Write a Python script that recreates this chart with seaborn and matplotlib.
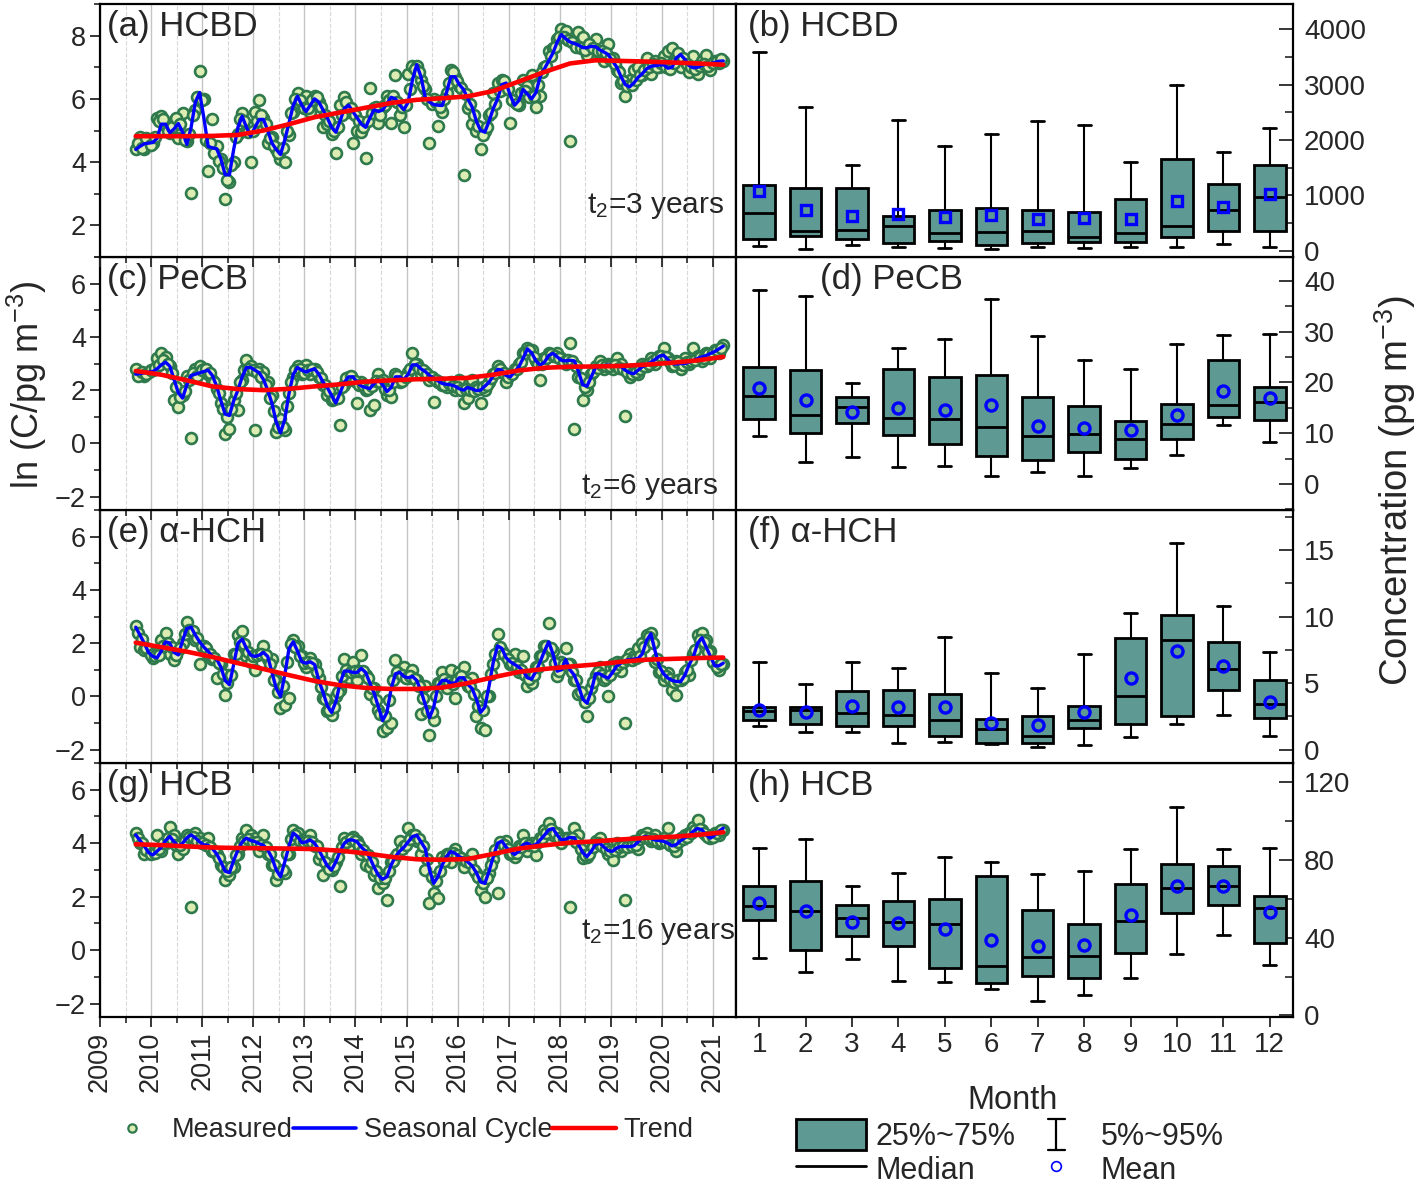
import numpy as np
import matplotlib
matplotlib.use("Agg")
import matplotlib.pyplot as plt
import seaborn as sns
from matplotlib.lines import Line2D
from matplotlib.patches import Patch
from matplotlib.legend_handler import HandlerBase
from matplotlib.ticker import MultipleLocator

sns.set_style("ticks")
plt.rcParams["font.family"] = ["Liberation Sans", "DejaVu Sans"]
plt.rcParams["mathtext.fontset"] = "custom"
plt.rcParams["mathtext.rm"] = "Liberation Sans"
plt.rcParams["mathtext.it"] = "Liberation Sans:italic"

# ---- time series: monthly values starting 2009.70 ----
seas_a = [4.4, 4.5, 4.58, 4.6,
          4.62, 4.75, 5.2, 5.2, 4.93, 5.05, 5.22, 4.95, 4.56, 5.1, 5.9, 6.2,
          5.4, 4.5, 4.45, 4.42, 4.1, 3.6, 3.6, 4.4, 5.1, 5.45, 5.1, 4.82,
          5.1, 5.35, 5.35, 5.0, 4.6, 4.4, 4.24, 4.7, 5.24, 5.8, 6.08, 5.8,
          5.6, 5.8, 6.0, 5.9, 5.65, 5.4, 5.1, 4.95, 5.3, 5.7, 5.8, 5.6,
          5.4, 5.2, 5.1, 5.4, 5.66, 5.6, 5.65, 5.85, 6.05, 6.0, 5.8, 5.66,
          5.9, 6.6, 7.08, 6.7, 6.05, 5.9, 5.82, 5.8, 5.79, 6.2, 6.7, 6.7,
          6.45, 6.3, 6.0, 5.75, 5.3, 5.0, 4.95, 5.3, 5.7, 6.0, 6.45, 6.5,
          6.1, 5.8, 5.95, 6.3, 6.15, 6.0, 6.2, 6.7, 6.95, 7.2, 7.45, 7.8,
          8.03, 7.9, 7.8, 7.75, 7.7, 7.62, 7.62, 7.66, 7.65, 7.55, 7.48, 7.4,
          7.2, 7.0, 6.7, 6.45, 6.38, 6.5, 6.68, 6.8, 6.95, 7.03, 7.05, 7.07,
          7.08, 6.97, 7.0, 7.3, 7.4, 7.25, 7.05, 6.98, 7.0, 7.06, 7.1, 7.12,
          7.15, 7.19, 7.2]
meas_a = [4.4, 4.8, 4.4, 4.7,
          4.6, 5.4, 5.45, 5.14, 4.93, 5.3, 4.77, 5.56, 4.66, 3.03, 5.65, 6.87,
          6.0, 3.72, 5.35, 4.5, 4.1, 2.82, 3.37, 4.0, 4.9, 5.55, 5.0, 4.0,
          5.6, 5.95, 5.4, 4.6, 4.8, 4.4, 4.1, 4.0, 4.85, 5.6, 6.2, 5.9,
          6.1, 5.6, 6.1, 5.9, 5.1, 5.2, 4.9, 4.3, 5.8, 6.05, 5.6, 4.6,
          5.0, 4.95, 4.14, 6.35, 5.7, 5.25, 5.75, 6.1, 5.25, 6.77, 5.5, 5.1,
          6.8, 7.05, 7.05, 6.6, 6.3, 4.6, 6.0, 5.15, 5.6, 6.2, 6.9, 6.7,
          6.4, 3.6, 5.7, 5.2, 5.0, 4.4, 5.0, 5.5, 6.2, 6.5, 6.6, 6.3,
          5.24, 5.9, 5.8, 6.6, 6.4, 6.77, 5.75, 6.1, 7.0, 7.5, 7.6, 7.9,
          8.2, 8.15, 4.66, 7.8, 8.1, 7.95, 7.4, 7.7, 7.9, 7.4, 7.2, 7.75,
          7.3, 6.9, 6.5, 6.1, 6.6, 6.9, 7.0, 6.75, 7.3, 6.8, 7.2, 7.0,
          7.35, 7.5, 7.6, 7.3, 7.0, 7.2, 6.85, 7.35, 6.8, 7.2, 7.4, 6.9,
          7.2, 7.15, 7.2]
# second sample of each month (mid-month, from 2009.74)
meas2_a = [4.6, 4.45, 4.75, 4.55,
           4.8, 5.3, 5.35, 5.0, 5.1, 5.4, 5.2, 4.7, 4.9, 5.5, 6.05, 5.95,
           4.7, 4.6, 4.3, 4.05, 3.8, 3.45, 3.9, 4.8, 5.35, 5.3, 4.95, 5.0,
           5.3, 5.5, 5.2, 4.75, 4.5, 4.3, 4.45, 5.0, 5.55, 6.0, 5.95, 5.7,
           5.7, 5.95, 6.05, 5.75, 5.5, 5.3, 5.0, 5.1, 5.5, 5.9, 5.7, 5.5,
           5.3, 5.1, 5.3, 5.55, 5.75, 5.5, 5.8, 5.95, 6.1, 5.9, 5.75, 5.8,
           6.3, 6.95, 6.85, 6.4, 6.0, 5.85, 5.9, 5.75, 6.0, 6.5, 6.85, 6.55,
           6.35, 6.15, 5.85, 5.5, 5.15, 4.85, 5.1, 5.55, 5.85, 6.25, 6.55, 6.3,
           5.95, 5.85, 6.2, 6.25, 6.05, 6.1, 6.45, 6.85, 7.05, 7.35, 7.65, 7.95,
           7.95, 7.85, 7.8, 7.65, 7.6, 7.55, 7.75, 7.6, 7.5, 7.5, 7.45, 7.25,
           7.1, 6.85, 6.55, 6.4, 6.45, 6.6, 6.75, 6.9, 7.0, 7.1, 7.0, 7.15,
           7.0, 6.95, 7.15, 7.45, 7.3, 7.1, 7.0, 6.95, 7.05, 7.1, 7.05, 7.15,
           7.2, 7.25]

seas_c = [2.6, 2.62, 2.65, 2.68,
          2.7, 2.8, 2.95, 3.05, 2.9, 2.4, 1.9, 1.7, 2.2, 2.55, 2.6, 2.65,
          2.7, 2.75, 2.55, 2.15, 1.6, 1.1, 1.05, 1.6, 2.0, 2.5, 2.85, 2.85,
          2.75, 2.65, 2.4, 2.0, 1.5, 0.8, 0.4, 0.9, 1.88, 2.6, 2.85, 2.75,
          2.68, 2.75, 2.8, 2.6, 2.3, 2.1, 1.8, 1.52, 1.9, 2.3, 2.5, 2.5,
          2.3, 2.15, 2.1, 2.06, 2.25, 2.38, 2.2, 1.95, 2.1, 2.5, 2.5, 2.4,
          2.6, 2.95, 2.95, 2.8, 2.7, 2.55, 2.44, 2.35, 2.25, 2.22, 2.2, 2.15,
          2.05, 2.0, 2.1, 2.05, 1.98, 2.0, 2.15, 2.3, 2.55, 2.78, 2.75, 2.55,
          2.5, 2.7, 2.88, 3.2, 3.55, 3.4, 3.1, 2.94, 3.05, 3.3, 3.38, 3.25,
          3.12, 3.1, 3.12, 3.1, 2.7, 2.2, 2.15, 2.5, 2.85, 2.9, 2.92, 2.94,
          2.92, 2.9, 2.88, 2.75, 2.65, 2.62, 2.75, 2.88, 2.95, 3.05, 3.15, 3.28,
          3.31, 3.15, 3.0, 2.98, 3.0, 3.0, 3.05, 3.12, 3.19, 3.25, 3.3, 3.38,
          3.45, 3.55, 3.65]
meas_c = [2.8, 2.6, 2.55, 2.7,
          2.75, 3.2, 3.4, 3.25, 2.9, 1.62, 1.38, 1.8, 2.55, 0.22, 2.8, 2.9,
          2.8, 2.6, 2.4, 2.05, 1.5, 0.37, 0.56, 1.62, 1.25, 2.4, 3.12, 2.9,
          0.5, 2.8, 2.7, 2.3, 1.8, 0.44, 0.9, 0.5, 1.9, 2.5, 2.9, 2.6,
          2.95, 2.6, 2.8, 2.5, 2.2, 1.8, 1.62, 1.7, 0.69, 2.2, 2.5, 2.4,
          1.5, 2.3, 2.0, 1.25, 1.44, 2.6, 2.4, 1.8, 1.75, 2.6, 2.3, 2.5,
          2.7, 3.38, 3.0, 2.6, 2.7, 2.4, 1.56, 2.3, 2.2, 2.1, 2.3, 2.0,
          2.4, 1.5, 1.69, 2.4, 2.1, 1.5, 2.0, 2.3, 2.6, 2.9, 2.7, 2.3,
          2.6, 2.8, 3.0, 3.4, 3.6, 3.5, 3.1, 2.38, 3.2, 3.4, 3.3, 3.4,
          3.2, 3.0, 3.78, 0.56, 2.5, 1.62, 2.0, 2.6, 2.9, 3.1, 2.8, 3.0,
          2.8, 3.2, 3.0, 1.02, 2.5, 2.7, 2.6, 3.0, 2.9, 3.2, 3.0, 3.3,
          3.6, 3.2, 2.9, 3.1, 2.8, 3.2, 3.0, 3.6, 3.3, 3.1, 3.4, 3.2,
          3.5, 3.4, 3.7]
meas2_c = [2.55, 2.7, 2.6, 2.75,
           2.85, 2.95, 3.15, 3.0, 2.65, 2.1, 1.75, 1.95, 2.4, 2.65, 2.55, 2.75,
           2.8, 2.65, 2.3, 1.9, 1.3, 1.0, 1.3, 1.9, 2.3, 2.75, 2.8, 2.75,
           2.7, 2.5, 2.2, 1.7, 1.2, 0.6, 0.6, 1.4, 2.3, 2.75, 2.8, 2.65,
           2.75, 2.8, 2.7, 2.45, 2.2, 1.95, 1.65, 1.7, 2.1, 2.45, 2.55, 2.35,
           2.2, 2.2, 2.05, 2.15, 2.35, 2.3, 2.05, 2.0, 2.3, 2.55, 2.35, 2.5,
           2.8, 3.0, 2.85, 2.75, 2.6, 2.5, 2.4, 2.3, 2.2, 2.25, 2.15, 2.1,
           2.0, 2.05, 2.0, 1.95, 2.05, 2.1, 2.2, 2.45, 2.65, 2.8, 2.65, 2.5,
           2.6, 2.8, 3.05, 3.4, 3.5, 3.25, 3.0, 3.0, 3.2, 3.35, 3.3, 3.2,
           3.05, 3.15, 3.1, 2.9, 2.45, 2.1, 2.3, 2.7, 2.85, 2.95, 2.9, 2.9,
           2.95, 2.85, 2.8, 2.7, 2.6, 2.7, 2.8, 2.9, 3.0, 3.1, 3.2, 3.3,
           3.25, 3.05, 2.95, 3.05, 2.95, 3.05, 3.1, 3.15, 3.25, 3.2, 3.35, 3.4,
           3.5, 3.6]

seas_e = [2.6, 2.3, 2.0, 1.65,
          1.5, 1.45, 1.7, 2.05, 2.0, 1.65, 1.56, 2.1, 2.55, 2.6, 2.3, 2.05,
          1.85, 1.69, 1.5, 1.4, 1.1, 0.6, 0.44, 1.2, 2.0, 2.15, 1.8, 1.55,
          1.5, 1.55, 1.65, 1.5, 0.9, 0.3, 0.0, 0.8, 1.8, 2.05, 1.7, 1.3,
          1.25, 1.3, 1.2, 0.6, 0.15, -0.35, -0.6, -0.2, 0.5, 0.95, 0.95, 0.9,
          0.9, 1.05, 0.9, 0.5, 0.12, -0.4, -0.9, -0.6, 0.3, 0.85, 0.9, 0.75,
          0.7, 0.75, 0.6, 0.2, -0.3, -0.8, -0.4, 0.4, 0.6, 0.6, 0.5, 0.5,
          0.7, 0.7, 0.45, 0.3, -0.1, -0.6, -0.4, 0.4, 1.3, 1.9, 1.8, 1.45,
          1.3, 1.2, 1.1, 0.95, 0.7, 0.65, 0.95, 1.3, 1.7, 2.05, 1.6, 0.95,
          1.0, 1.38, 1.0, 0.8, 0.4, -0.1, -0.25, 0.2, 0.85, 0.85, 0.75, 0.69,
          0.9, 1.15, 1.25, 1.35, 1.38, 1.4, 1.42, 1.6, 2.1, 2.35, 1.7, 1.12,
          0.85, 0.69, 0.6, 0.56, 0.56, 0.8, 1.2, 1.5, 2.0, 2.2, 1.85, 1.5,
          1.15, 1.15, 1.25]
meas_e = [2.65, 1.85, 1.75, 1.7,
          1.45, 1.6, 2.1, 2.4, 1.6, 1.35, 1.75, 2.0, 2.81, 2.3, 2.1, 1.2,
          1.9, 1.55, 1.4, 0.7, 1.2, 0.06, 0.8, 1.6, 2.3, 2.44, 1.5, 1.3,
          1.0, 1.6, 1.9, 1.4, 1.4, 0.6, -0.44, -0.31, -0.06, 2.12, 1.9, 1.5,
          1.1, 1.45, 1.2, 0.7, -0.06, -0.56, -0.7, 0.0, 0.25, 1.4, 0.7, 1.3,
          0.6, 1.55, 0.8, 0.1, 0.3, -0.5, -1.31, -1.19, -1.0, 1.35, 0.8, 1.1,
          0.7, 1.0, 0.6, -0.65, 0.4, -1.44, -0.88, 0.5, 0.9, 0.3, 1.0, -0.06,
          0.9, 1.1, 0.4, 0.7, -0.75, -1.19, -1.25, 0.0, 1.2, 2.35, 1.7, 1.5,
          1.2, 1.6, 0.9, 1.5, 0.4, 0.5, 1.1, 1.5, 1.9, 2.75, 1.7, 0.75,
          1.3, 1.8, 1.2, 0.6, 0.1, 0.1, -0.75, 0.3, 0.8, 1.1, 0.6, 0.02,
          1.2, 1.3, 0.95, -1.0, 1.6, 1.5, 1.8, 2.0, 2.3, 2.4, 1.3, 0.9,
          0.6, 0.88, 0.25, 0.06, 0.6, 0.9, 0.8, 1.6, 2.31, 2.4, 2.1, 1.7,
          1.3, 1.0, 1.2]
meas2_e = [2.4, 2.15, 1.8, 1.55,
           1.5, 1.55, 1.9, 2.0, 1.85, 1.55, 1.8, 2.35, 2.5, 2.45, 2.2, 1.9,
           1.8, 1.6, 1.45, 1.25, 0.85, 0.5, 0.8, 1.6, 2.05, 1.95, 1.65, 1.5,
           1.55, 1.6, 1.55, 1.2, 0.6, 0.15, 0.4, 1.3, 1.95, 1.85, 1.5, 1.25,
           1.3, 1.25, 0.9, 0.35, -0.1, -0.5, -0.4, 0.15, 0.75, 1.0, 0.9, 0.95,
           0.95, 0.95, 0.7, 0.3, -0.15, -0.65, -0.75, -0.15, 0.6, 0.9, 0.8, 0.7,
           0.75, 0.65, 0.4, -0.05, -0.55, -0.6, 0.0, 0.5, 0.65, 0.55, 0.45, 0.6,
           0.75, 0.55, 0.35, 0.1, -0.35, -0.5, 0.0, 0.85, 1.6, 1.85, 1.6, 1.4,
           1.25, 1.15, 1.0, 0.8, 0.65, 0.8, 1.1, 1.5, 1.9, 1.8, 1.25, 0.95,
           1.2, 1.2, 0.9, 0.6, 0.15, -0.2, -0.05, 0.55, 0.9, 0.8, 0.7, 0.8,
           1.05, 1.2, 1.3, 1.4, 1.35, 1.45, 1.5, 1.85, 2.25, 2.0, 1.4, 0.95,
           0.75, 0.65, 0.55, 0.6, 0.7, 1.0, 1.35, 1.75, 2.1, 2.05, 1.65, 1.3,
           1.1, 1.2]

seas_g = [4.31, 4.1, 3.9, 3.65,
          3.56, 3.7, 3.85, 4.1, 4.25, 4.05, 3.88, 4.0, 4.2, 4.31, 4.2, 4.05,
          3.94, 3.92, 3.8, 3.6, 3.3, 2.95, 2.9, 3.35, 3.75, 4.05, 4.19, 4.1,
          4.06, 3.98, 3.92, 3.75, 3.45, 3.0, 2.75, 3.3, 3.9, 4.38, 4.25, 4.02,
          4.05, 4.12, 4.0, 3.75, 3.45, 3.15, 3.0, 3.3, 3.7, 4.0, 4.12, 4.12,
          4.05, 3.85, 3.7, 3.45, 3.1, 2.8, 2.65, 2.75, 3.19, 3.5, 3.7, 3.85,
          4.05, 4.25, 4.3, 4.05, 3.8, 3.0, 2.5, 2.75, 3.19, 3.5, 3.69, 3.62,
          3.5, 3.42, 3.3, 3.15, 2.9, 2.55, 2.5, 2.95, 3.5, 4.0, 4.08, 3.85,
          3.7, 3.58, 3.7, 3.95, 4.0, 3.9, 3.95, 4.12, 4.3, 4.5, 4.55, 4.3,
          4.12, 4.15, 4.22, 4.2, 3.95, 3.65, 3.5, 3.7, 3.95, 4.0, 3.85, 3.72,
          3.7, 3.82, 3.88, 3.88, 3.87, 3.9, 4.05, 4.22, 4.25, 4.18, 4.12, 4.1,
          4.07, 4.0, 3.9, 3.95, 4.1, 4.2, 4.3, 4.45, 4.55, 4.5, 4.3, 4.19,
          4.3, 4.45, 4.56]
meas_g = [4.4, 4.0, 3.6, 3.7,
          3.75, 4.3, 3.7, 4.0, 4.62, 4.3, 3.6, 3.8, 4.3, 1.62, 4.4, 4.2,
          4.1, 4.2, 3.7, 3.6, 3.2, 2.62, 2.8, 3.1, 3.6, 4.2, 4.5, 4.3,
          4.2, 3.7, 4.3, 3.6, 3.2, 2.62, 2.9, 2.88, 3.6, 4.5, 4.4, 4.1,
          4.2, 4.3, 3.9, 3.4, 2.81, 3.2, 3.0, 3.3, 2.41, 4.2, 3.9, 4.25,
          4.1, 3.6, 3.2, 3.1, 2.8, 2.31, 2.5, 1.88, 3.3, 3.5, 4.1, 3.9,
          4.56, 4.3, 4.1, 3.6, 3.0, 1.75, 2.12, 1.94, 3.5, 3.6, 3.3, 3.8,
          3.5, 3.1, 3.4, 3.6, 2.9, 2.25, 2.0, 2.9, 3.4, 2.12, 3.9, 4.1,
          3.6, 3.5, 3.9, 4.3, 3.7, 4.0, 3.56, 4.2, 4.5, 4.75, 4.3, 4.4,
          4.0, 4.2, 1.62, 4.56, 4.3, 3.44, 3.5, 3.8, 4.1, 4.2, 3.9, 3.6,
          3.38, 4.0, 3.7, 1.88, 3.9, 4.1, 3.8, 4.3, 4.4, 4.1, 4.3, 4.0,
          4.2, 4.56, 4.0, 3.7, 4.2, 4.3, 4.4, 4.6, 4.88, 4.5, 4.3, 4.2,
          4.4, 4.3, 4.5]
meas2_g = [4.2, 4.0, 3.75, 3.6,
           3.65, 3.8, 4.0, 4.2, 4.15, 3.95, 3.95, 4.1, 4.25, 4.25, 4.1, 4.0,
           3.95, 3.85, 3.7, 3.45, 3.1, 2.95, 3.1, 3.55, 3.9, 4.1, 4.15, 4.05,
           4.05, 3.95, 3.85, 3.6, 3.2, 2.85, 3.0, 3.6, 4.15, 4.3, 4.1, 4.05,
           4.1, 4.05, 3.9, 3.6, 3.3, 3.05, 3.15, 3.5, 3.85, 4.05, 4.15, 4.1,
           3.95, 3.75, 3.55, 3.3, 2.95, 2.7, 2.7, 2.95, 3.35, 3.6, 3.8, 3.95,
           4.15, 4.3, 4.15, 3.9, 3.4, 2.75, 2.6, 2.95, 3.35, 3.6, 3.65, 3.55,
           3.45, 3.35, 3.25, 3.0, 2.75, 2.5, 2.7, 3.2, 3.75, 4.05, 3.95, 3.8,
           3.65, 3.65, 3.85, 4.0, 3.95, 3.9, 4.05, 4.2, 4.4, 4.55, 4.4, 4.2,
           4.15, 4.2, 4.2, 4.05, 3.8, 3.55, 3.6, 3.85, 4.0, 3.9, 3.8, 3.7,
           3.75, 3.85, 3.9, 3.85, 3.9, 3.95, 4.15, 4.25, 4.2, 4.15, 4.1, 4.1,
           4.05, 3.95, 3.9, 4.05, 4.15, 4.25, 4.4, 4.5, 4.55, 4.4, 4.25, 4.25,
           4.4, 4.5]

# trend curves, every half year from 2009.70
trend_a = [4.82, 4.82, 4.82, 4.83, 4.86, 5.0, 5.2, 5.42, 5.57, 5.72, 5.87, 5.97,
           6.02, 6.08, 6.25, 6.55, 6.85, 7.12, 7.22, 7.2, 7.18, 7.15, 7.12, 7.08]
trend_c = [2.72, 2.58, 2.37, 2.14, 2.04, 2.0, 2.05, 2.14, 2.22, 2.32, 2.37, 2.41,
           2.43, 2.46, 2.58, 2.74, 2.84, 2.88, 2.89, 2.91, 2.96, 3.03, 3.12, 3.25]
trend_e = [2.02, 1.85, 1.68, 1.48, 1.25, 1.03, 0.8, 0.58, 0.42, 0.32, 0.28, 0.28,
           0.33, 0.5, 0.72, 0.92, 1.03, 1.12, 1.2, 1.3, 1.38, 1.41, 1.44, 1.46]
trend_g = [3.96, 3.93, 3.88, 3.84, 3.82, 3.81, 3.8, 3.78, 3.72, 3.62, 3.49, 3.4,
           3.38, 3.41, 3.6, 3.8, 3.92, 4.02, 4.07, 4.14, 4.2, 4.24, 4.31, 4.41]

# ---- monthly box statistics ----
months = list(range(1, 13))
hcbd_lo = [91, 36, 103, 62, 54, 31, 67, 54, 73, 73, 122, 73]
hcbd_q1 = [218, 267, 207, 145, 171, 98, 134, 163, 163, 249, 358, 363]
hcbd_med = [672, 363, 381, 443, 316, 334, 358, 254, 316, 443, 726, 962]
hcbd_q3 = [1187, 1125, 1132, 630, 739, 775, 726, 690, 933, 1664, 1205, 1543]
hcbd_hi = [3600, 2602, 1555, 2360, 1900, 2118, 2348, 2263, 1604, 3002, 1791, 2221]
hcbd_mean = [1083, 733, 630, 666, 617, 642, 581, 593, 569, 902, 793, 1024]

pecb_lo = [9.4, 4.3, 5.4, 3.3, 3.5, 1.6, 2.3, 1.6, 3.1, 5.7, 11.6, 8.2]
pecb_q1 = [12.9, 10.1, 12.1, 9.6, 7.8, 5.6, 4.7, 6.4, 5.0, 8.8, 13.2, 12.7]
pecb_med = [17.3, 13.6, 15.2, 13.0, 12.9, 11.3, 9.4, 9.8, 8.9, 11.8, 15.5, 16.1]
pecb_q3 = [23.1, 22.4, 17.2, 22.7, 21.0, 21.4, 17.2, 15.4, 12.5, 15.7, 24.5, 19.2]
pecb_hi = [38.3, 37.0, 19.9, 26.8, 28.5, 36.5, 29.2, 24.5, 22.6, 27.5, 29.3, 29.5]
pecb_mean = [18.9, 16.5, 14.2, 14.9, 14.6, 15.5, 11.5, 11.0, 10.6, 13.6, 18.4, 17.0]

hch_lo = [1.8, 1.35, 1.3, 0.5, 0.6, 0.4, 0.2, 0.35, 0.95, 1.95, 2.6, 1.0]
hch_q1 = [2.25, 1.95, 1.8, 1.75, 1.0, 0.5, 0.5, 1.65, 1.9, 2.55, 4.45, 2.35]
hch_med = [2.9, 2.95, 2.75, 2.6, 2.2, 1.55, 1.05, 2.2, 4.05, 8.2, 6.05, 3.4]
hch_q3 = [3.2, 3.2, 4.4, 4.45, 4.2, 2.3, 2.5, 3.3, 8.4, 10.15, 8.1, 5.25]
hch_hi = [6.6, 4.9, 6.6, 6.1, 8.5, 5.75, 4.6, 7.2, 10.3, 15.5, 10.8, 7.35]
hch_mean = [3.0, 2.8, 3.25, 3.2, 3.2, 2.0, 1.85, 2.8, 5.4, 7.4, 6.3, 3.6]

hcb_lo = [29.8, 22.3, 29.3, 17.5, 17.3, 13.4, 7.4, 10.6, 19.2, 31.9, 41.3, 25.9]
hcb_q1 = [49.4, 33.6, 40.8, 35.8, 24.2, 16.6, 20.2, 19.4, 32.1, 53.0, 57.1, 37.4]
hcb_med = [56.4, 54.0, 50.4, 48.2, 47.0, 25.4, 30.0, 30.5, 48.5, 65.7, 66.9, 55.4]
hcb_q3 = [66.9, 69.4, 57.1, 59.0, 59.8, 72.0, 54.2, 47.0, 67.9, 78.0, 77.1, 61.5]
hcb_hi = [86.4, 90.9, 66.9, 73.4, 81.6, 79.0, 72.7, 74.6, 85.9, 107.3, 85.5, 86.4]
hcb_mean = [57.9, 53.8, 48.0, 47.8, 44.6, 39.1, 36.0, 36.3, 51.6, 66.5, 66.5, 53.1]

years = list(range(2009, 2022))

FILL = "#dcecb2"
EDGE = "#2e7a4c"
BOXC = "#5f9993"
TICK_FS = 20
LABEL_FS = 25


def monthly_time(vals, start=2009.70):
    return start + np.arange(len(vals)) / 12


def half_year_time(vals):
    return 2009.70 + 0.5 * np.arange(len(vals))


def draw_left(ax, meas, meas2, seas, trend, label, ylim, bottom=False):
    ax.set_xlim(2009, 2021.45)
    ax.set_ylim(*ylim)
    ax.xaxis.set_major_locator(MultipleLocator(1))
    ax.xaxis.set_minor_locator(MultipleLocator(0.5))
    ax.yaxis.set_major_locator(MultipleLocator(2))
    ax.yaxis.set_minor_locator(MultipleLocator(1))
    ax.grid(True, which="major", axis="x", color="#c4c4c4", lw=1.0)
    ax.grid(True, which="minor", axis="x", color="#d8d8d8", lw=0.8, ls="--")
    ax.grid(False, axis="y", which="both")
    ax.set_axisbelow(True)

    for tt, vv in ((monthly_time(meas), meas), (monthly_time(meas2, 2009.74), meas2)):
        sns.scatterplot(x=tt, y=vv, ax=ax, s=62, color=FILL, edgecolor=EDGE,
                        linewidth=1.9, zorder=2, legend=False)
    sns.lineplot(x=monthly_time(seas), y=seas, ax=ax, color="blue", lw=2.4, zorder=3)
    sns.lineplot(x=half_year_time(trend), y=trend, ax=ax, color="red", lw=3.3, zorder=4)

    ax.tick_params(axis="y", which="major", direction="out", length=7, width=1.3,
                   labelsize=19.5, pad=3)
    ax.tick_params(axis="y", which="minor", direction="out", length=4, width=1.2)
    ax.tick_params(axis="x", which="major", direction="out", length=7, width=1.3)
    ax.tick_params(axis="x", which="minor", direction="out", length=4, width=1.2)
    if bottom:
        ax.set_xticks(years)
        ax.set_xticklabels([str(y) for y in years], rotation=90, fontsize=19.5)
    else:
        ax.tick_params(axis="x", labelbottom=False)
    ax.text(0.011, 0.975, label, transform=ax.transAxes, fontsize=LABEL_FS,
            ha="left", va="top")
    ax.set_xlabel("")
    ax.set_ylabel("")


def draw_right(ax, lo, q1, med, q3, hi, mean, label, ylim, major, minor,
               mean_marker="o", label_x=0.022, bottom=False):
    stats = [dict(whislo=lo[i], q1=q1[i], med=med[i], q3=q3[i], whishi=hi[i],
                  mean=mean[i], fliers=[]) for i in range(len(months))]
    ax.bxp(stats, positions=months, widths=0.68, capwidths=0.28,
           patch_artist=True, showmeans=True, showfliers=False,
           boxprops=dict(facecolor=BOXC, edgecolor="black", linewidth=2),
           medianprops=dict(color="black", linewidth=2),
           whiskerprops=dict(color="black", linewidth=1.5),
           capprops=dict(color="black", linewidth=2),
           meanprops=dict(marker=mean_marker, markerfacecolor="none",
                          markeredgecolor="blue", markeredgewidth=2.4,
                          markersize=8 if mean_marker == "o" else 7.5))
    ax.set_xlim(0.5, 12.5)
    ax.set_ylim(*ylim)
    ax.yaxis.set_major_locator(MultipleLocator(major))
    ax.yaxis.set_minor_locator(MultipleLocator(minor))
    ax.yaxis.tick_right()
    ax.tick_params(axis="y", which="major", direction="in", length=10, width=1.3,
                   labelsize=TICK_FS, right=True, left=False, labelright=True,
                   labelleft=False, pad=8)
    ax.tick_params(axis="y", which="minor", direction="in", length=6, width=1.2,
                   right=True, left=False)
    ax.grid(False)
    if bottom:
        ax.set_xticks(months)
        ax.set_xticklabels([str(m) for m in months], fontsize=TICK_FS)
        ax.tick_params(axis="x", direction="out", length=7, width=1.3)
    else:
        ax.tick_params(axis="x", bottom=False, labelbottom=False)
    ax.text(label_x, 0.975, label, transform=ax.transAxes, fontsize=LABEL_FS,
            ha="left", va="top")


fig = plt.figure(figsize=(14.18, 11.87), dpi=100)

L0, LW = 100 / 1418, 636 / 1418
R0, RW = 736 / 1418, 557 / 1418
rows = [(4, 257), (257, 510), (510, 763), (763, 1017)]
left_axes, right_axes = [], []
for k, (top, bot) in enumerate(rows):
    b = 1 - bot / 1187
    h = (bot - top) / 1187
    axl = fig.add_axes([L0, b, LW, h])
    axr = fig.add_axes([R0, b, RW, h])
    axl.set_zorder(10 - k)
    axr.set_zorder(10 - k)
    left_axes.append(axl)
    right_axes.append(axr)

for ax in left_axes + right_axes:
    for sp in ax.spines.values():
        sp.set_linewidth(1.6)
        sp.set_color("black")

draw_left(left_axes[0], meas_a, meas2_a, seas_a, trend_a, "(a) HCBD", (1, 9))
draw_left(left_axes[1], meas_c, meas2_c, seas_c, trend_c, "(c) PeCB", (-2.5, 7))
draw_left(left_axes[2], meas_e, meas2_e, seas_e, trend_e, "(e) \u03b1-HCH", (-2.5, 7))
draw_left(left_axes[3], meas_g, meas2_g, seas_g, trend_g, "(g) HCB", (-2.5, 7),
          bottom=True)

left_axes[0].text(0.981, 0.2, "t$_2$=3 years", transform=left_axes[0].transAxes,
                  fontsize=21.5, ha="right", va="center")
left_axes[1].text(0.972, 0.09, "t$_2$=6 years", transform=left_axes[1].transAxes,
                  fontsize=21.5, ha="right", va="center")
left_axes[3].text(0.999, 0.335, "t$_2$=16 years", transform=left_axes[3].transAxes,
                  fontsize=21.5, ha="right", va="center")

draw_right(right_axes[0], hcbd_lo, hcbd_q1, hcbd_med, hcbd_q3, hcbd_hi, hcbd_mean,
           "(b) HCBD", (-115, 4460), 1000, 500, mean_marker="s")
draw_right(right_axes[1], pecb_lo, pecb_q1, pecb_med, pecb_q3, pecb_hi, pecb_mean,
           "(d) PeCB", (-5.1, 44.7), 10, 5, label_x=0.151)
draw_right(right_axes[2], hch_lo, hch_q1, hch_med, hch_q3, hch_hi, hch_mean,
           "(f) \u03b1-HCH", (-1, 18), 5, 2.5)
draw_right(right_axes[3], hcb_lo, hcb_q1, hcb_med, hcb_q3, hcb_hi, hcb_mean,
           "(h) HCB", (-0.8, 130), 40, 20, bottom=True)

fig.text(0.019, 0.676, "ln (C/pg m$^{-3}$)", rotation=90, fontsize=26,
         ha="center", va="center")
fig.text(0.984, 0.587, "Concentration (pg m$^{-3}$)", rotation=90, fontsize=27.5,
         ha="center", va="center")
fig.text(0.714, 0.073, "Month", fontsize=23.5, ha="center", va="center")

# legend for the time series
h_meas = Line2D([], [], ls="", marker="o", markerfacecolor=FILL,
                markeredgecolor=EDGE, markeredgewidth=1.6, markersize=6)
h_seas = Line2D([], [], color="blue", lw=2.6)
h_trend = Line2D([], [], color="red", lw=3.2)
fig.legend([h_meas, h_seas, h_trend], ["Measured", "Seasonal Cycle", "Trend"],
           loc="center", bbox_to_anchor=(0.28, 0.048), ncol=3, frameon=False,
           fontsize=19.5, handlelength=2.33, handletextpad=0.3, columnspacing=0.0)


class WhiskerHandler(HandlerBase):
    def create_artists(self, legend, orig_handle, xdescent, ydescent, width,
                       height, fontsize, trans):
        cx = -xdescent + width / 2
        y0, y1 = -ydescent, -ydescent + height
        w = 0.12 * width
        parts = [Line2D([cx, cx], [y0, y1]),
                 Line2D([cx - w, cx + w], [y0, y0]),
                 Line2D([cx - w, cx + w], [y1, y1])]
        for p in parts:
            p.set_color("black")
            p.set_linewidth(1.6)
            p.set_transform(trans)
        return parts


h_box = Patch(facecolor=BOXC, edgecolor="black", linewidth=2)
h_med = Line2D([], [], color="black", lw=2)
h_whisk = Line2D([], [], color="black")
h_mean = Line2D([], [], ls="", marker="o", markerfacecolor="none",
                markeredgecolor="blue", markeredgewidth=1.2, markersize=7)
fig.legend([h_box, h_med, h_whisk, h_mean],
           ["25%~75%", "Median", "5%~95%", "Mean"],
           loc="center", bbox_to_anchor=(0.712, 0.029), ncol=2, frameon=False,
           fontsize=22, handlelength=2.3, handleheight=1.15, labelspacing=0.05,
           handletextpad=0.3, columnspacing=0.2,
           handler_map={h_whisk: WhiskerHandler()})

fig.savefig("out.png", dpi=100)
